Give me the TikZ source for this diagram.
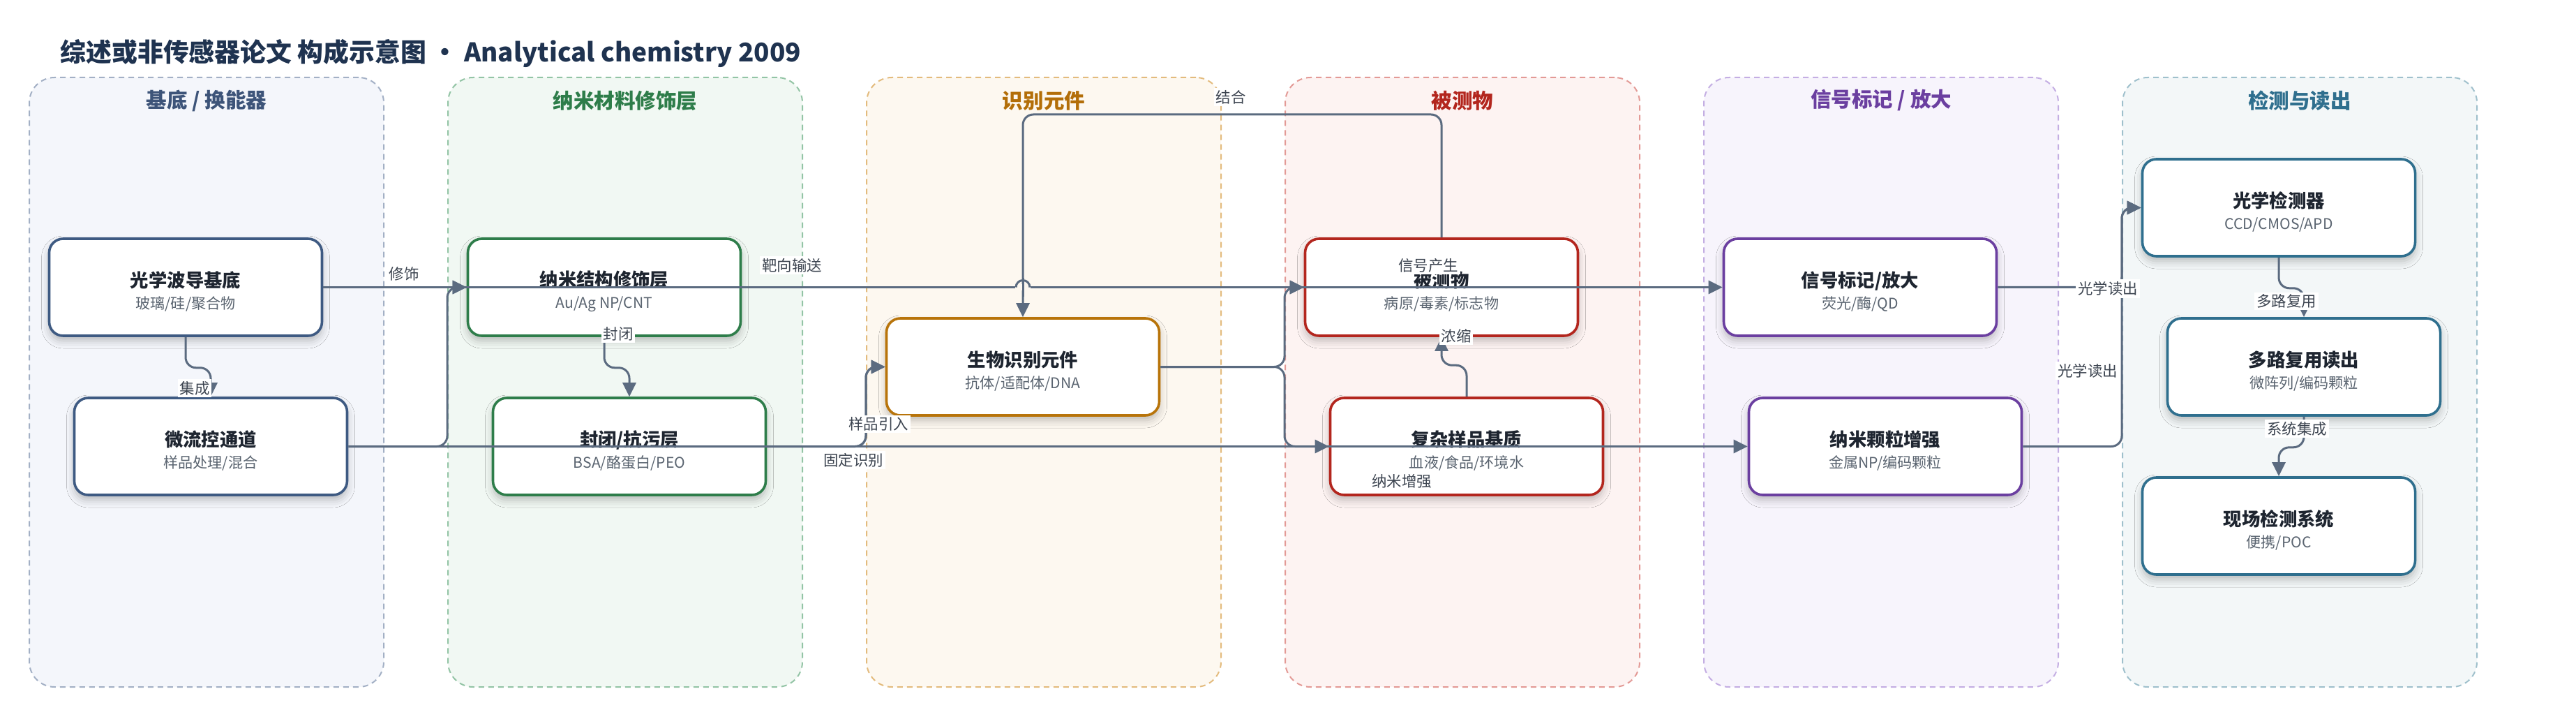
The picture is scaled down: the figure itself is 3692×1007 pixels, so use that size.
\documentclass[tikz,border=0pt]{standalone}
\usepackage{fontspec}
\setmainfont{Noto Sans CJK SC}
\usetikzlibrary{arrows.meta,shadows.blur}

\definecolor{headc}{HTML}{1F3350}
\definecolor{linkc}{HTML}{5B6B80}
\definecolor{labc}{HTML}{3C4450}
\definecolor{ttlc}{HTML}{1E2530}
\definecolor{subc}{HTML}{5A6470}
\definecolor{l1d}{HTML}{A3B0C5}\definecolor{l1f}{HTML}{F4F6FB}\definecolor{l1t}{HTML}{3D5479}\definecolor{c1}{HTML}{3E5A82}
\definecolor{l2d}{HTML}{93C4A5}\definecolor{l2f}{HTML}{F1F8F3}\definecolor{l2t}{HTML}{2E7D4A}\definecolor{c2}{HTML}{2E7D4A}
\definecolor{l3d}{HTML}{E3BB7D}\definecolor{l3f}{HTML}{FDF8F0}\definecolor{l3t}{HTML}{B36E08}\definecolor{c3}{HTML}{B8740A}
\definecolor{l4d}{HTML}{E39A96}\definecolor{l4f}{HTML}{FDF3F2}\definecolor{l4t}{HTML}{B3261E}\definecolor{c4}{HTML}{B3261E}
\definecolor{l5d}{HTML}{C4AEE3}\definecolor{l5f}{HTML}{F7F4FC}\definecolor{l5t}{HTML}{6B3FA0}\definecolor{c5}{HTML}{6B3FA0}
\definecolor{l6d}{HTML}{9FC0CC}\definecolor{l6f}{HTML}{F3F7F8}\definecolor{l6t}{HTML}{2F6F8E}\definecolor{c6}{HTML}{2F6F8E}

\tikzset{
  lane/.style 2 args={draw=#1, fill=#2, line width=0.2mm, dash pattern=on 0.8mm off 0.6mm,
    rounded corners=3.6mm, minimum width=50.8mm, minimum height=87.3mm, inner sep=0pt},
  lanetitle/.style={text=#1, font=\bfseries\fontsize{8.4}{10}\selectfont},
  comp/.style={draw=#1, line width=0.36mm, fill=white, rounded corners=2mm,
    minimum width=39.1mm, minimum height=13.9mm, inner sep=0pt, align=center,
    font=\fontsize{6}{8.8}\selectfont,
    blur shadow={shadow xshift=0mm, shadow yshift=-0.7mm, shadow blur radius=1.1mm, shadow opacity=25}},
  link/.style={draw=linkc, line width=0.3mm, rounded corners=1.5mm, -{Triangle[length=2mm,width=1.9mm]}},
  elab/.style={fill=white, inner sep=0.3mm, text=labc, font=\fontsize{6.1}{7}\selectfont},
}
\newcommand{\ctext}[2]{{\bfseries\fontsize{7.5}{8.8}\selectfont\color{ttlc}\rule{0pt}{10pt}#1}\\{\color{subc}#2}}

\begin{document}
\begin{tikzpicture}[x=0.1mm, y=-0.1mm]
\useasboundingbox (0,0) rectangle (3692,1007);
\node[anchor=west, text=headc, font=\bfseries\fontsize{10.5}{12}\selectfont] (head) at (74,76) {综述或非传感器论文 构成示意图 · Analytical chemistry 2009};

\node[lane={l1d}{l1f}] (laneBase) at (296,547.5) {};
\node[lane={l2d}{l2f}] (laneNano) at (896,547.5) {};
\node[lane={l3d}{l3f}] (laneBio) at (1496,547.5) {};
\node[lane={l4d}{l4f}] (laneAna) at (2096,547.5) {};
\node[lane={l5d}{l5f}] (laneSig) at (2696,547.5) {};
\node[lane={l6d}{l6f}] (laneDet) at (3296,547.5) {};
\node[lanetitle=l1t] (tBase) at (296,144) {基底 / 换能器};
\node[lanetitle=l2t] (tNano) at (896,144) {纳米材料修饰层};
\node[lanetitle=l3t] (tBio) at (1496,144) {识别元件};
\node[lanetitle=l4t] (tAna) at (2096,144) {被测物};
\node[lanetitle=l5t] (tSig) at (2696,144) {信号标记 / 放大};
\node[lanetitle=l6t] (tDet) at (3296,144) {检测与读出};

\node[comp=c1] (wg) at (266,411.5) {\ctext{光学波导基底}{玻璃/硅/聚合物}};
\node[comp=c1] (mf) at (302,639.5) {\ctext{微流控通道}{样品处理/混合}};
\node[comp=c2] (nano) at (866,411.5) {\ctext{纳米结构修饰层}{Au/Ag NP/CNT}};
\node[comp=c2] (block) at (902,639.5) {\ctext{封闭/抗污层}{BSA/酪蛋白/PEO}};
\node[comp=c3] (bio) at (1466,525.5) {\ctext{生物识别元件}{抗体/适配体/DNA}};
\node[comp=c4] (ana) at (2066,411.5) {\ctext{被测物}{病原/毒素/标志物}};
\node[comp=c4] (mat) at (2102,639.5) {\ctext{复杂样品基质}{血液/食品/环境水}};
\node[comp=c5] (sig) at (2666,411.5) {\ctext{信号标记/放大}{荧光/酶/QD}};
\node[comp=c5] (np) at (2702,639.5) {\ctext{纳米颗粒增强}{金属NP/编码颗粒}};
\node[comp=c6] (det) at (3266,297.5) {\ctext{光学检测器}{CCD/CMOS/APD}};
\node[comp=c6] (mux) at (3302,525.5) {\ctext{多路复用读出}{微阵列/编码颗粒}};
\node[comp=c6] (poc) at (3266,753.5) {\ctext{现场检测系统}{便携/POC}};

\draw[link] (wg.east) -- (nano.west);
\draw[link] (wg.east) -- (sig.west);
\draw[link] (nano.east) -- (ana.west);
\draw[link] (wg.south) -- ++(0,44) -| (mf.north);
\draw[link] (nano.south) -- ++(0,44) -| (block.north);
\draw[link] (mf.east) -- (mf.east -| laneNano.west) |- (nano.west);
\draw[link] (mf.east) -- (mf.east -| laneBio.west) |- (bio.west);
\draw[link] (block.east) -- (block.east -| laneBio.west) |- (bio.west);
\draw[link] (block.east) -- (np.west);
\draw[link] (bio.east) -- (bio.east -| laneAna.west) |- (ana.west);
\draw[link] (bio.east) -- (bio.east -| laneAna.west) |- (mat.west);
\coordinate (bindTop) at (2066,164);
\draw[link] (ana.north) -- (bindTop) -| (bio.north);
\draw[link] (mat.north) -- ++(0,-45) -| (ana.south);
\draw[link] (sig.east) -- (sig.east -| laneDet.west) |- (det.west);
\draw[link] (np.east) -- (np.east -| laneDet.west) |- (det.west);
\draw[link] (det.south) -- ++(0,44) -| (mux.north);
\draw[link] (mux.south) -- ++(0,44) -| (poc.north);

\fill[l3f] (1455,407) rectangle (1477,416);
\draw[linkc, line width=0.3mm] (1466,398) -- (1466,425);
\draw[linkc, line width=0.3mm] (1456,411.5) arc[start angle=180, end angle=0, radius=1mm];

\node[elab] (eXiushi) at (579,392.5) {修饰};
\node[elab] (eJicheng) at (279,556) {集成};
\node[elab] (eFengbi) at (886,478) {封闭};
\node[elab] (eBaxiang) at (1135,380) {靶向输送};
\node[elab] (eJiehe) at (1764,139) {结合};
\node[elab] (eYangpin) at (1259,607.5) {样品引入};
\node[elab] (eGuding) at (1223,659) {固定识别};
\node[elab] (eXinhao) at (2047,380) {信号产生};
\node[elab] (eNongsuo) at (2087,481) {浓缩};
\node[elab] (eNami) at (2009,689) {纳米增强};
\node[elab] (eDuchu) at (3021,413.5) {光学读出};
\node[elab] (eDuchuB) at (2992,531) {光学读出};
\node[elab] (eFuyong) at (3277,431.5) {多路复用};
\node[elab] (eXitong) at (3292,614) {系统集成};
\end{tikzpicture}
\end{document}
